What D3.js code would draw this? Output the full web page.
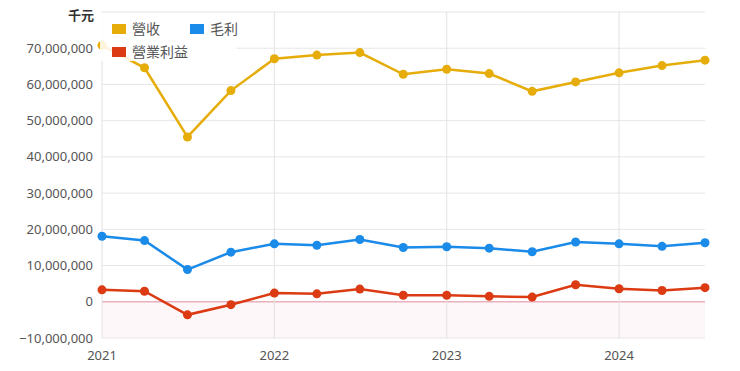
<!DOCTYPE html>
<html>
<head>
<meta charset="utf-8">
<script src="https://cdn.jsdelivr.net/npm/d3@7"></script>
<style>
  body { margin: 0; background: #fff; }
  svg text { font-family: "Noto Sans", "Noto Sans CJK TC", sans-serif; fill: #555; }
</style>
</head>
<body>
<svg id="chart" width="740" height="371"></svg>
<script>
// quarters 2021Q1 .. 2024Q3, values in 千元
const quarters = ["2021-01", "2021-04", "2021-07", "2021-10", "2022-01", "2022-04", "2022-07", "2022-10",
  "2023-01", "2023-04", "2023-07", "2023-10", "2024-01", "2024-04", "2024-07"];
const revenue = [70.8, 64.6, 45.5, 58.3, 67.1, 68.1, 68.8, 62.8, 64.2, 63.0, 58.1, 60.7, 63.2, 65.2, 66.7].map(v => v * 1e6);
const grossProfit = [18.1, 16.9, 8.9, 13.7, 16.0, 15.6, 17.2, 15.0, 15.2, 14.8, 13.8, 16.5, 16.0, 15.3, 16.3].map(v => v * 1e6);
const operatingIncome = [3.3, 2.9, -3.6, -0.8, 2.4, 2.2, 3.5, 1.8, 1.8, 1.5, 1.3, 4.7, 3.6, 3.1, 3.9].map(v => v * 1e6);
const yTicks = [-10e6, 0, 10e6, 20e6, 30e6, 40e6, 50e6, 60e6, 70e6];
const yearTicks = ["2021", "2022", "2023", "2024"];

const seriesList = [
  { name: "營收", values: revenue, color: "#e6ad0a" },
  { name: "毛利", values: grossProfit, color: "#1a8be8" },
  { name: "營業利益", values: operatingIncome, color: "#db3a12" }
];

const svg = d3.select("#chart");
const margin = { left: 102, right: 35, top: 12, bottom: 33 };
const width = 740, height = 371;
const parseMonth = d3.timeParse("%Y-%m");
const dates = quarters.map(parseMonth);

const x = d3.scaleTime()
  .domain([parseMonth("2021-01"), parseMonth("2024-07")])
  .range([margin.left, width - margin.right]);
const y = d3.scaleLinear()
  .domain([-10e6, 80e6])
  .range([height - margin.bottom, margin.top]);

// negative area
svg.append("rect")
  .attr("x", x.range()[0])
  .attr("y", y(0))
  .attr("width", x.range()[1] - x.range()[0])
  .attr("height", y(-10e6) - y(0))
  .attr("fill", "#fef7f9");

// horizontal grid
svg.append("g")
  .selectAll("line")
  .data(yTicks.concat([80e6]))
  .enter().append("line")
  .attr("x1", x.range()[0])
  .attr("x2", x.range()[1])
  .attr("y1", d => y(d))
  .attr("y2", d => y(d))
  .attr("stroke", d => d === 0 ? "#eab0bd" : "#e6e6e6")
  .attr("stroke-width", d => d === 0 ? 1.5 : 1);

// vertical grid at years
svg.append("g")
  .selectAll("line")
  .data(yearTicks)
  .enter().append("line")
  .attr("x1", d => x(parseMonth(d + "-01")))
  .attr("x2", d => x(parseMonth(d + "-01")))
  .attr("y1", y.range()[1])
  .attr("y2", y.range()[0])
  .attr("stroke", "#e2e2e2");

const fmt = d3.format(",.0f");
svg.append("g")
  .selectAll("text")
  .data(yTicks)
  .enter().append("text")
  .attr("x", margin.left - 9)
  .attr("y", d => y(d) + 4.5)
  .attr("text-anchor", "end")
  .attr("font-size", 13)
  .text(d => fmt(d));

svg.append("text")
  .attr("x", margin.left - 8)
  .attr("y", 20)
  .attr("text-anchor", "end")
  .attr("font-size", 13)
  .attr("font-weight", "bold")
  .style("fill", "#333")
  .text("千元");

svg.append("g")
  .selectAll("text")
  .data(yearTicks)
  .enter().append("text")
  .attr("x", d => x(parseMonth(d + "-01")))
  .attr("y", 360)
  .attr("text-anchor", "middle")
  .attr("font-size", 13)
  .text(d => d);

const line = d3.line()
  .x((d, i) => x(dates[i]))
  .y(d => y(d));

seriesList.forEach(s => {
  const g = svg.append("g");
  g.append("path")
    .attr("d", line(s.values))
    .attr("fill", "none")
    .attr("stroke", s.color)
    .attr("stroke-width", 2.5);
  g.selectAll("circle")
    .data(s.values)
    .enter().append("circle")
    .attr("cx", (d, i) => x(dates[i]))
    .attr("cy", d => y(d))
    .attr("r", 4.5)
    .attr("fill", s.color);
});

// legend
const legend = svg.append("g");
legend.append("rect")
  .attr("x", 100).attr("y", 13)
  .attr("width", 137).attr("height", 48)
  .attr("fill", "#fff").attr("fill-opacity", 0.85);
const legendPos = [[112, 24], [190, 24], [112, 47]];
seriesList.forEach((s, i) => {
  legend.append("rect")
    .attr("x", legendPos[i][0]).attr("y", legendPos[i][1])
    .attr("width", 14).attr("height", 10)
    .attr("fill", s.color);
  legend.append("text")
    .attr("x", legendPos[i][0] + 20)
    .attr("y", legendPos[i][1] + 10)
    .attr("font-size", 14)
    .text(s.name);
});
</script>
</body>
</html>
